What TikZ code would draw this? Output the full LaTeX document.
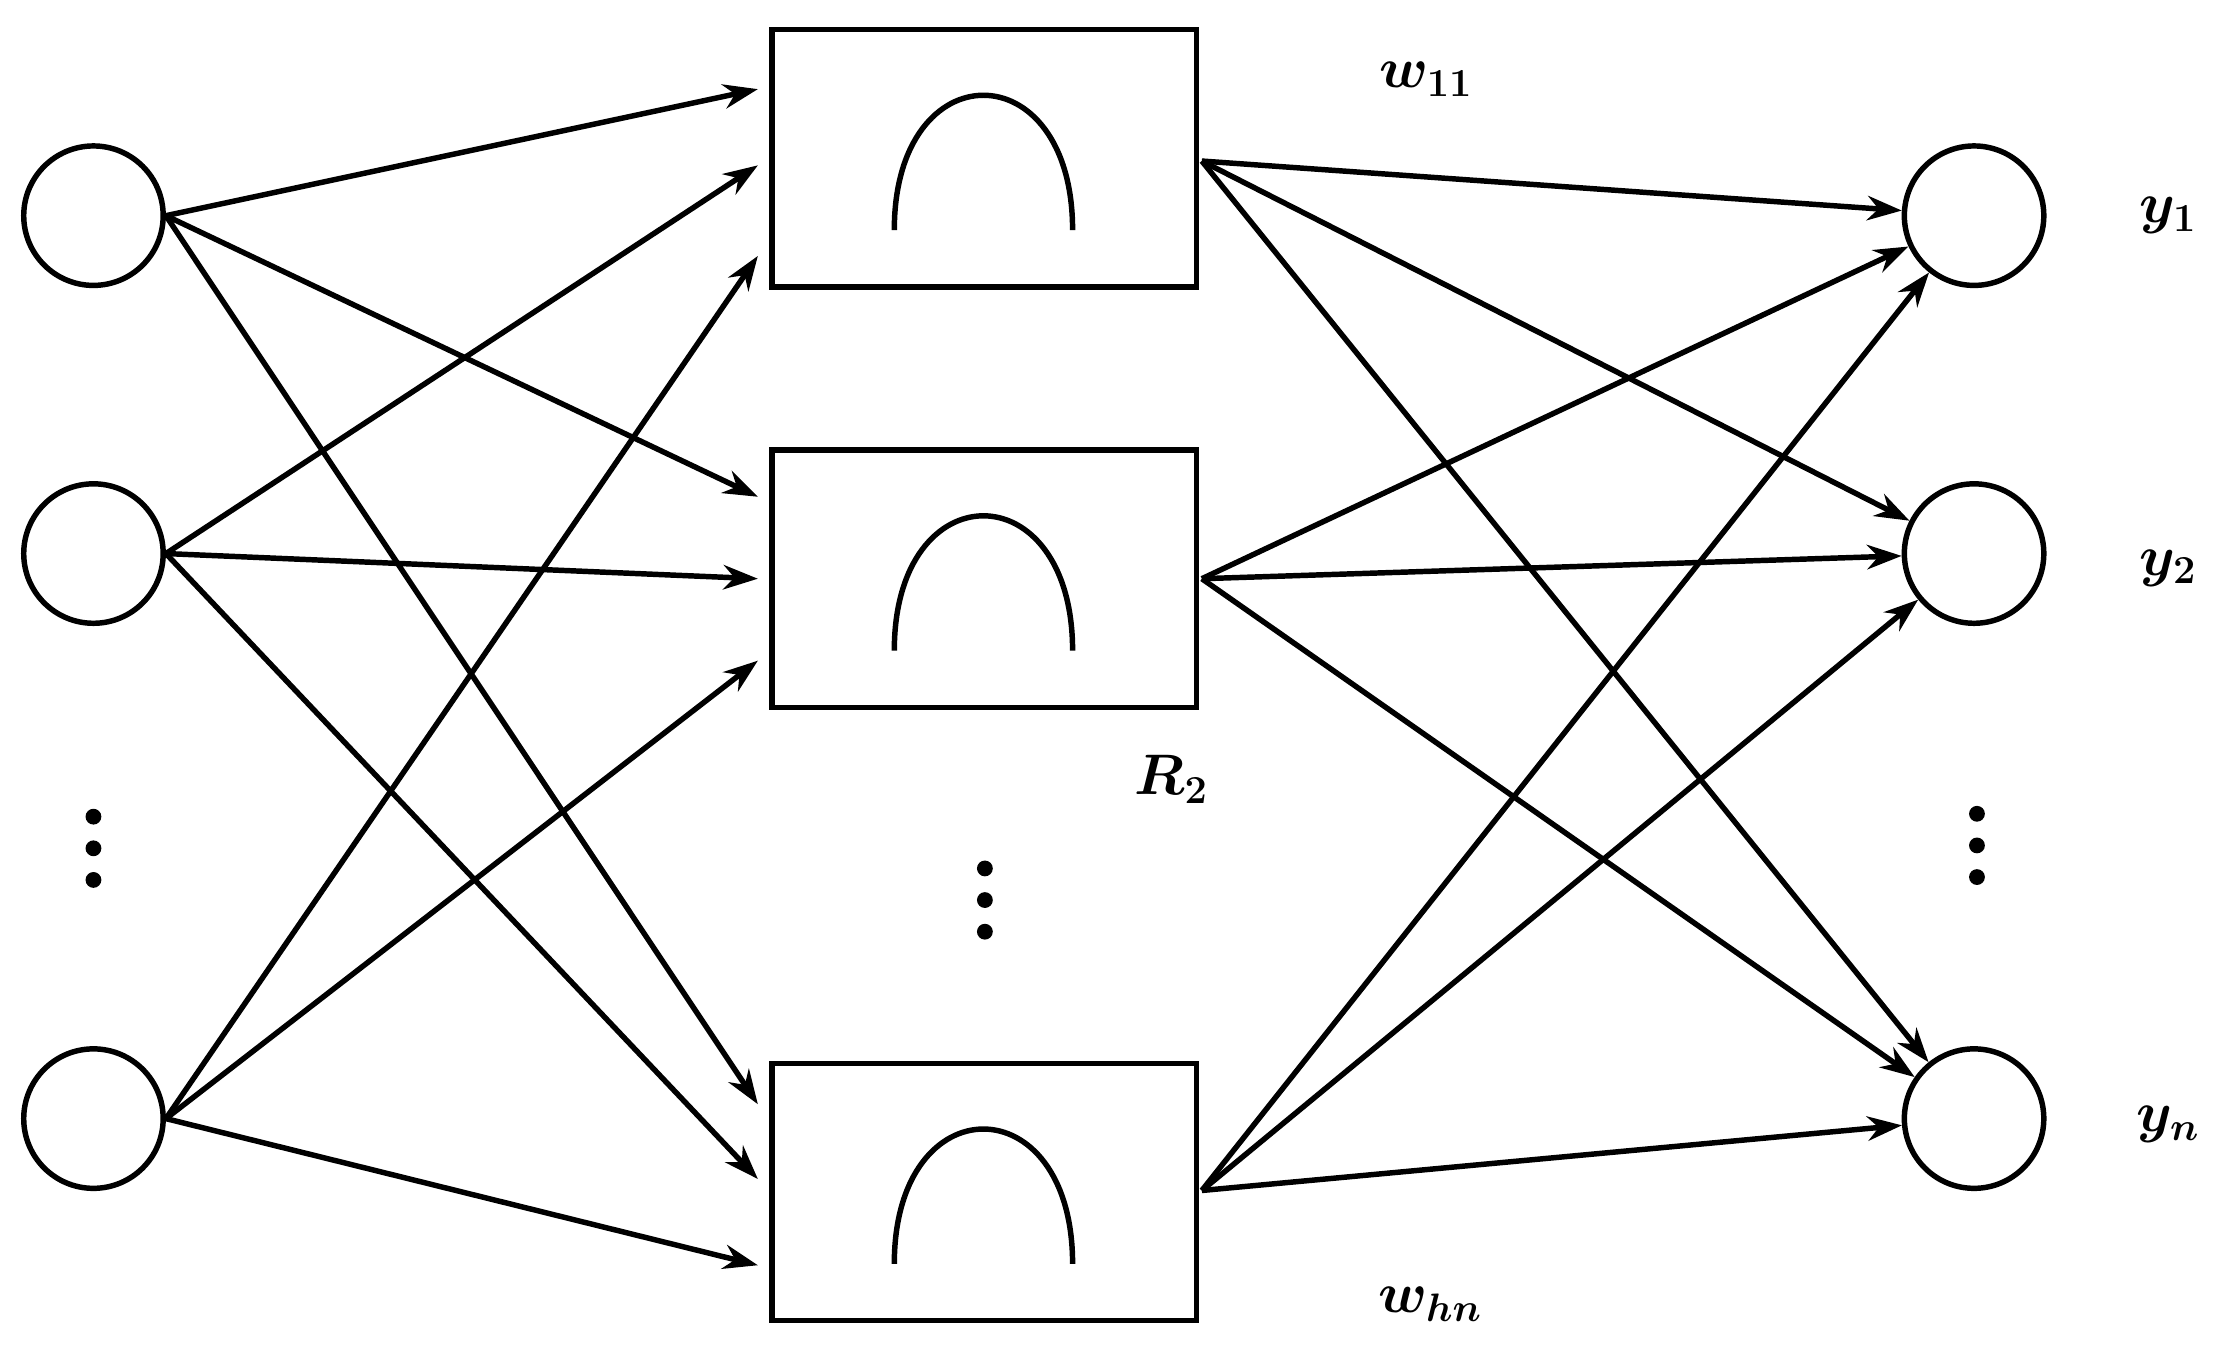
\documentclass[tikz,border=0pt]{standalone}
\usetikzlibrary{arrows.meta}
\begin{document}
\begin{tikzpicture}[x=1pt,y=-1pt,line width=3.8pt,
 neu/.style={circle,draw,minimum size=97pt,inner sep=0pt},
 box/.style={rectangle,draw,minimum width=295pt,minimum height=179pt,inner sep=0pt},
 arr/.style={-{Stealth[length=24pt,width=17pt]}},
 lab/.style={font=\LARGE\boldmath,scale=2.3,transform shape},
 dot/.style={circle,fill,inner sep=0pt,minimum size=11pt}]
\useasboundingbox (0,0) rectangle (1551,946);
\node[neu] (i1) at (65,150) {};
\node[neu] (i2) at (65,385) {};
\node[neu] (i3) at (65,778) {};
\node[box] (b1) at (684.5,110) {};
\node[box] (b2) at (684.5,402.5) {};
\node[box] (b3) at (684.5,829) {};
\node[neu] (o1) at (1373,150) {};
\node[neu] (o2) at (1373,385) {};
\node[neu] (o3) at (1373,778) {};
\foreach \c in {110,402.5,829}
  \draw (622,\c+50) .. controls (622,\c-75) and (746,\c-75) .. (746,\c+50);
\draw[arr] (i1.east) -- ([yshift=48pt,xshift=-8pt]b1.west);
\draw[arr] (i1.east) -- ([yshift=57pt,xshift=-8pt]b2.west);
\draw[arr] (i1.east) -- ([yshift=61pt,xshift=-8pt]b3.west);
\draw[arr] (i2.east) -- ([yshift=-5pt,xshift=-8pt]b1.west);
\draw[arr] (i2.east) -- ([xshift=-8pt]b2.west);
\draw[arr] (i2.east) -- ([yshift=9pt,xshift=-8pt]b3.west);
\draw[arr] (i3.east) -- ([yshift=-68pt,xshift=-8pt]b1.west);
\draw[arr] (i3.east) -- ([yshift=-57pt,xshift=-8pt]b2.west);
\draw[arr] (i3.east) -- ([yshift=-51pt,xshift=-8pt]b3.west);
\foreach \b/\s in {b1/-2,b2/0,b3/1}
  \foreach \o in {o1,o2,o3}
    \draw[arr] ([yshift=\s pt,xshift=2pt]\b.east) -- (\o);
\node[lab] (w11) at (992,55) {$w_{11}$};
\node[lab] (r2) at (815,542) {$R_2$};
\node[lab] (whn) at (995,907) {$w_{hn}$};
\node[lab] (y1) at (1508,150) {$y_1$};
\node[lab] (y2) at (1508,395) {$y_2$};
\node[lab] (yn) at (1508,782) {$y_n$};
\foreach \x/\y in {65/590,685/626,1375/588}{
  \node[dot] at (\x,\y-22) {};\node[dot] at (\x,\y) {};\node[dot] at (\x,\y+22) {};}
\end{tikzpicture}
\end{document}
